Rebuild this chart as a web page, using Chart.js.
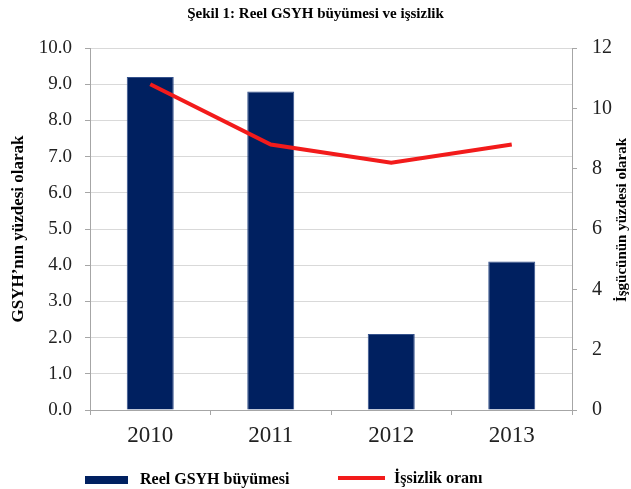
<!DOCTYPE html>
<html>
<head>
<meta charset="utf-8">
<script src="https://cdn.jsdelivr.net/npm/chart.js@4/dist/chart.umd.min.js"></script>
<style>
  html, body { margin: 0; padding: 0; background: #fff; }
  #wrap { width: 631px; height: 489px; }
</style>
</head>
<body>
<div id="wrap"><canvas id="myChart" width="631" height="489"></canvas></div>
<script>
//------------------data---------------------
const years = ['2010', '2011', '2012', '2013'];
const gdpGrowth = [9.2, 8.8, 2.1, 4.1];      // Reel GSYH büyümesi (sol eksen)
const unemployment = [10.8, 8.8, 8.2, 8.8];  // İşsizlik oranı (sağ eksen)
const leftTicks = [0, 1, 2, 3, 4, 5, 6, 7, 8, 9, 10];
const rightTicks = [0, 2, 4, 6, 8, 10, 12];

const serif = "'Liberation Serif', 'DejaVu Serif', serif";
const axisGray = '#a6a6a6';

//------------------extra drawing: right title + legend---------------------
const extrasPlugin = {
  id: 'extras',
  afterDraw(chart) {
    const ctx = chart.ctx;
    const bars = chart.data.datasets[1];
    const line = chart.data.datasets[0];

    // right axis title, read bottom to top
    ctx.save();
    ctx.font = 'bold 15px ' + serif;
    ctx.fillStyle = '#000';
    ctx.textAlign = 'center';
    ctx.textBaseline = 'middle';
    ctx.translate(622, 220);
    ctx.rotate(-Math.PI / 2);
    ctx.fillText('İşgücünün yüzdesi olarak', 0, 0);
    ctx.restore();

    // legend
    ctx.save();
    ctx.font = 'bold 16px ' + serif;
    ctx.textBaseline = 'middle';
    ctx.textAlign = 'left';

    ctx.fillStyle = bars.backgroundColor;
    ctx.fillRect(85, 476, 43, 8);
    ctx.fillStyle = '#000';
    ctx.fillText(bars.label, 140, 480);

    ctx.strokeStyle = line.borderColor;
    ctx.lineWidth = 4;
    ctx.beginPath();
    ctx.moveTo(338, 478);
    ctx.lineTo(385, 478);
    ctx.stroke();
    ctx.fillText(line.label, 394, 479);
    ctx.restore();
  }
};

//------------------chart---------------------
function createChart() {
  const el = document.getElementById('myChart').getContext('2d');

  new Chart(el, {
    type: 'bar',
    data: {
      labels: years,
      datasets: [{
        type: 'line',
        label: 'İşsizlik oranı',
        data: unemployment,
        yAxisID: 'y1',
        borderColor: '#f21b1b',
        borderWidth: 4,
        pointRadius: 0,
        tension: 0,
        order: 0
      }, {
        type: 'bar',
        label: 'Reel GSYH büyümesi',
        data: gdpGrowth,
        yAxisID: 'y',
        backgroundColor: '#002060',
        borderColor: '#35528c',
        borderWidth: 1,
        barPercentage: 0.39,
        categoryPercentage: 1,
        order: 1
      }]
    },
    options: {
      responsive: false,
      animation: false,
      layout: { padding: 0 },
      plugins: {
        legend: { display: false },
        tooltip: { enabled: false },
        title: {
          display: true,
          text: 'Şekil 1: Reel GSYH büyümesi ve işsizlik',
          color: '#000',
          font: { family: serif, size: 15, weight: 'bold' },
          padding: { top: 5, bottom: 25 }
        }
      },
      scales: {
        x: {
          offset: true,
          afterFit(scale) { scale.height = 79; },
          grid: {
            offset: true,
            drawOnChartArea: false,
            drawTicks: true,
            tickLength: 5,
            tickColor: axisGray
          },
          border: { color: axisGray, width: 1 },
          ticks: {
            color: '#222',
            padding: 7,
            font: { family: serif, size: 23 }
          }
        },
        y: {
          position: 'left',
          min: 0,
          max: 10,
          afterFit(scale) { scale.width = 90; },
          afterBuildTicks(scale) { scale.ticks = leftTicks.map(v => ({ value: v })); },
          grid: {
            color: '#d9d9d9',
            drawTicks: true,
            tickLength: 5,
            tickColor: axisGray
          },
          border: { color: axisGray, width: 1 },
          ticks: {
            color: '#222',
            padding: 13,
            font: { family: serif, size: 19 },
            callback: v => Number(v).toFixed(1)
          },
          title: {
            display: true,
            text: 'GSYH\u2019nın yüzdesi olarak',
            color: '#000',
            font: { family: serif, size: 17, weight: 'bold' },
            padding: { top: 8, bottom: 0 }
          }
        },
        y1: {
          position: 'right',
          min: 0,
          max: 12,
          afterFit(scale) { scale.width = 59; },
          afterBuildTicks(scale) { scale.ticks = rightTicks.map(v => ({ value: v })); },
          grid: {
            drawOnChartArea: false,
            drawTicks: true,
            tickLength: 5,
            tickColor: axisGray
          },
          border: { color: axisGray, width: 1 },
          ticks: {
            color: '#222',
            padding: 15,
            font: { family: serif, size: 20 }
          }
        }
      }
    },
    plugins: [extrasPlugin]
  });
}

createChart();
</script>
</body>
</html>
